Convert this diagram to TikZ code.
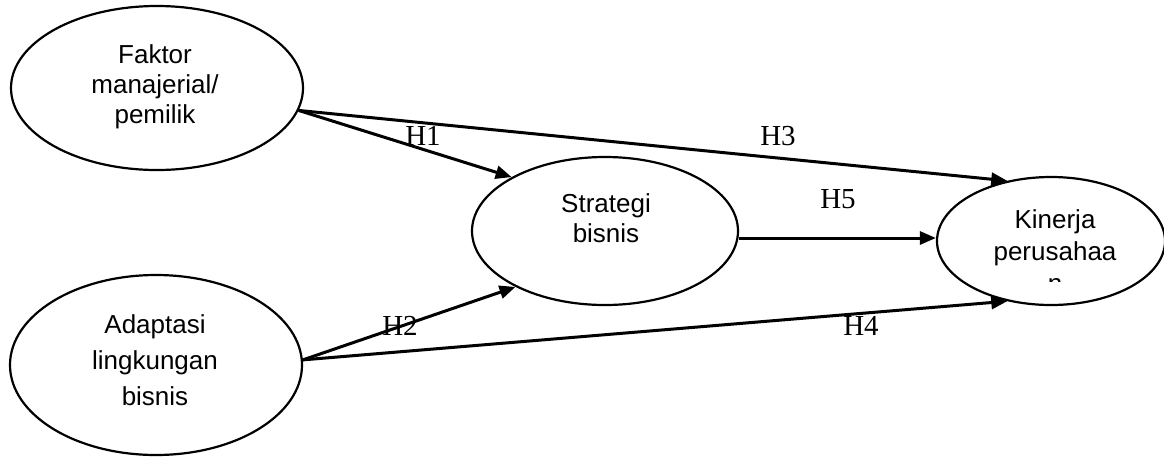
\documentclass[tikz,border=0pt]{standalone}
\usepackage{fontspec}
\setmainfont{Liberation Sans}
\newfontfamily\hfont{Liberation Serif}
\usetikzlibrary{arrows.meta,shapes.geometric}
\tikzset{
  var/.style={draw=black, line width=2.2pt, ellipse, inner sep=0pt, fill=none},
  vtext/.style={align=center, anchor=base, inner sep=0pt},
  hyp/.style={font=\hfont\fontsize{29}{30}\selectfont, anchor=base, inner sep=0pt},
  conn/.style={line width=3pt, -{Triangle[length=16pt,width=13pt]}},
}
\begin{document}
\begin{tikzpicture}[x=1pt,y=-1pt]
\useasboundingbox (0,0) rectangle (1164,456);
% ellipses
\node[var, minimum width=292pt, minimum height=164pt] (fak) at (157,88) {};
\node[var, minimum width=292pt, minimum height=180pt] (ada) at (156,365) {};
\node[var, minimum width=266pt, minimum height=148pt] (str) at (605,231) {};
\node[var, minimum width=228pt, minimum height=128pt] (kin) at (1051,241) {};
% texts (base anchor = last line's baseline)
\node[vtext, font=\fontsize{26}{30}\selectfont] (tfak) at (155,123) {Faktor\\manajerial/\\pemilik};
\node[vtext, font=\fontsize{26}{36}\selectfont] (tada) at (155,405) {Adaptasi\\lingkungan\\bisnis};
\node[vtext, font=\fontsize{26}{30}\selectfont] (tstr) at (606,242) {Strategi\\bisnis};
\begin{scope}
\clip (900,190) rectangle (1164,281);
\node[vtext, font=\fontsize{26}{32}\selectfont] (tkin) at (1055,292) {Kinerja\\perusahaa\\n};
\end{scope}
% connectors
\draw[conn] (fak.-9) -- (str.150);
\draw[conn] (fak.-9) -- (kin.126);
\draw[conn] (ada.2) -- (str.212);
\draw[conn] (ada.2) -- (kin.234);
\draw[conn] (str.-3) -- (str.-3 -| kin.west);
% labels
\node[hyp] (h1) at (423,145) {H1};
\node[hyp] (h3) at (778,145) {H3};
\node[hyp] (h5) at (838,208) {H5};
\node[hyp] (h2) at (400,335) {H2};
\node[hyp] (h4) at (861,335) {H4};
\end{tikzpicture}
\end{document}
